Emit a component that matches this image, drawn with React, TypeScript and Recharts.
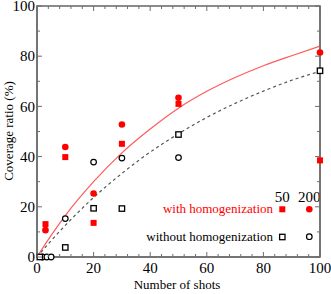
import React from 'react';
import { ComposedChart, XAxis, YAxis, Line, Scatter, Customized } from 'recharts';

const xTicks = [0, 4, 8, 12, 16, 20, 24, 28, 32, 36, 40, 44, 48, 52, 56, 60, 64, 68, 72, 76, 80, 84, 88, 92, 96, 100];
const yTicks = [0, 10, 20, 30, 40, 50, 60, 70, 80, 90, 100];

// with homogenization, 50 / 200
const with50 = [
  { x: 3, y: 13.1 },
  { x: 10, y: 39.8 },
  { x: 20, y: 13.6 },
  { x: 30, y: 45.1 },
  { x: 50, y: 61 },
  { x: 100, y: 38.5 },
];
const with200 = [
  { x: 3, y: 10.7 },
  { x: 10, y: 43.8 },
  { x: 20, y: 25.3 },
  { x: 30, y: 52.8 },
  { x: 50, y: 63.4 },
  { x: 100, y: 81.5 },
];
// without homogenization, 50 / 200
const without50 = [
  { x: 1, y: 0 },
  { x: 10, y: 3.8 },
  { x: 20, y: 19.4 },
  { x: 30, y: 19.3 },
  { x: 50, y: 48.8 },
  { x: 100, y: 74.2 },
];
const without200 = [
  { x: 2, y: 0 },
  { x: 3.5, y: 0 },
  { x: 5, y: 0 },
  { x: 10, y: 15.3 },
  { x: 20, y: 37.8 },
  { x: 30, y: 39.4 },
  { x: 50, y: 39.6 },
];

// fitted curves
const curveX = [0, 5, 10, 20, 30, 40, 50, 60, 70, 80, 90, 100];
const redCurveY = [0, 8.6, 16.5, 30, 41.5, 51, 59.3, 66, 71.5, 76.2, 80.2, 84];
const blackCurveY = [0, 6.5, 12.6, 23.7, 33.3, 41.8, 49.1, 55.6, 61.2, 66.1, 70.4, 74];
const redCurve = curveX.map((x, i) => ({ x, y: redCurveY[i] }));
const blackCurve = curveX.map((x, i) => ({ x, y: blackCurveY[i] }));

const RED = '#ff0000';
const AXIS = '#6e6e6e';
const FONT = '"Liberation Serif", "DejaVu Serif", serif';
const PLOT_TOP = 6;
const PLOT_LEFT = 37;
const PLOT_RIGHT = 320;
const PLOT_BOTTOM = 257;

if (typeof document !== 'undefined') document.body.style.margin = '0';

// bottom tick also draws the matching tick on the top frame
const BottomTick = (props: any) => {
  const { x, y, payload } = props;
  const major = payload.value % 20 === 0;
  const len = major ? 5 : 3;
  return (
    <g>
      <line x1={x} x2={x} y1={y} y2={y - len} stroke={AXIS} strokeWidth={1} />
      <line x1={x} x2={x} y1={PLOT_TOP} y2={PLOT_TOP + len} stroke={AXIS} strokeWidth={1} />
      {major && (
        <text x={x} y={y + 16} textAnchor="middle" fontSize={15} fontFamily={FONT} fill="#000">
          {payload.value}
        </text>
      )}
    </g>
  );
};

const LeftTick = (props: any) => {
  const { x, y, payload } = props;
  const major = payload.value % 20 === 0;
  return (
    <g>
      <line x1={x} x2={x + (major ? 5 : 3)} y1={y} y2={y} stroke={AXIS} strokeWidth={1} />
      {major && (
        <text x={x - 2} y={y} dy="0.35em" textAnchor="end" fontSize={15} fontFamily={FONT} fill="#000">
          {payload.value}
        </text>
      )}
    </g>
  );
};

const RightTick = (props: any) => {
  const { x, y, payload } = props;
  const major = payload.value % 20 === 0;
  return <line x1={x} x2={x - (major ? 5 : 3)} y1={y} y2={y} stroke={AXIS} strokeWidth={1} />;
};

const RedSquare = (props: any) => (
  <rect x={props.cx - 3} y={props.cy - 3} width={6} height={6} fill={RED} />
);
const RedCircle = (props: any) => <circle cx={props.cx} cy={props.cy} r={3.3} fill={RED} />;
const OpenSquare = (props: any) => (
  <rect x={props.cx - 2.7} y={props.cy - 2.7} width={5.4} height={5.4} fill="#fff" stroke="#000" strokeWidth={1.3} />
);
const OpenCircle = (props: any) => (
  <circle cx={props.cx} cy={props.cy} r={2.8} fill="#fff" stroke="#000" strokeWidth={1.2} />
);

const Overlay = () => (
  <g fontFamily={FONT}>
    <rect
      x={PLOT_LEFT}
      y={PLOT_TOP}
      width={PLOT_RIGHT - PLOT_LEFT}
      height={PLOT_BOTTOM - PLOT_TOP}
      fill="none"
      stroke={AXIS}
      strokeWidth={1.6}
    />
    <text x={12.5} y={131} transform="rotate(-90, 12.5, 131)" textAnchor="middle" fontSize={13} fill="#000">
      Coverage ratio (%)
    </text>
    <text x={177} y={289} textAnchor="middle" fontSize={13} fill="#000">
      Number of shots
    </text>
    <text x={282.3} y={201.5} textAnchor="middle" fontSize={15} fill="#000">50</text>
    <text x={309.3} y={201.5} textAnchor="middle" fontSize={15} fill="#000">200</text>
    <text x={273} y={213} textAnchor="end" fontSize={13} fill={RED}>with homogenization</text>
    <text x={273} y={240.5} textAnchor="end" fontSize={13} fill="#000">without homogenization</text>
    <RedSquare cx={282.3} cy={209.3} />
    <RedCircle cx={309.3} cy={209.3} />
    <OpenSquare cx={282.3} cy={237} />
    <OpenCircle cx={309.3} cy={236.7} />
  </g>
);

export default function App() {
  return (
    <div style={{ width: 331, height: 294, background: '#fff' }}>
      <ComposedChart width={331} height={294} margin={{ top: PLOT_TOP, right: 10, bottom: 0, left: 0 }}>
        <XAxis
          xAxisId="b"
          type="number"
          dataKey="x"
          domain={[0, 100]}
          ticks={xTicks}
          interval={0}
          height={37}
          tickSize={0}
          tickMargin={0}
          tick={<BottomTick />}
          axisLine={{ stroke: AXIS, strokeWidth: 1.5 }}
        />
        <YAxis
          yAxisId="l"
          type="number"
          domain={[0, 100]}
          ticks={yTicks}
          interval={0}
          width={37}
          tickSize={0}
          tickMargin={0}
          tick={<LeftTick />}
          axisLine={{ stroke: AXIS, strokeWidth: 1.5 }}
        />
        <YAxis
          yAxisId="r"
          orientation="right"
          type="number"
          domain={[0, 100]}
          ticks={yTicks}
          interval={0}
          width={1}
          tickSize={0}
          tickMargin={0}
          tick={<RightTick />}
          axisLine={{ stroke: AXIS, strokeWidth: 1.5 }}
        />
        <Line
          xAxisId="b"
          yAxisId="r"
          data={redCurve}
          dataKey="y"
          type="monotone"
          stroke="#ff5a5a"
          strokeWidth={1.2}
          dot={false}
          isAnimationActive={false}
        />
        <Line
          xAxisId="b"
          yAxisId="r"
          data={blackCurve}
          dataKey="y"
          type="monotone"
          stroke="#555"
          strokeWidth={1.2}
          strokeDasharray="3 3"
          dot={false}
          isAnimationActive={false}
        />
        <Scatter xAxisId="b" yAxisId="l" data={without200} dataKey="y" shape={<OpenCircle />} isAnimationActive={false} />
        <Scatter xAxisId="b" yAxisId="l" data={without50} dataKey="y" shape={<OpenSquare />} isAnimationActive={false} />
        <Scatter xAxisId="b" yAxisId="l" data={with50} dataKey="y" shape={<RedSquare />} isAnimationActive={false} />
        <Scatter xAxisId="b" yAxisId="l" data={with200} dataKey="y" shape={<RedCircle />} isAnimationActive={false} />
        <Customized component={<Overlay />} />
      </ComposedChart>
    </div>
  );
}
